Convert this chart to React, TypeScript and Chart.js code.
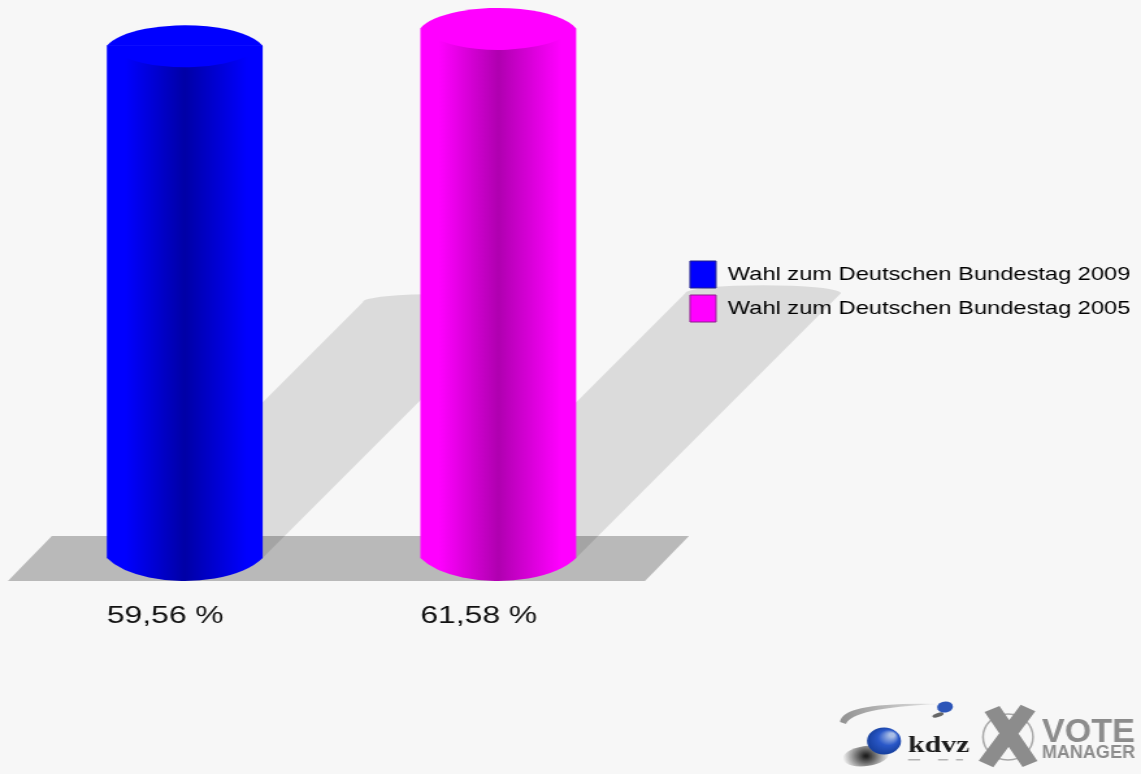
import React, { useEffect, useRef } from "react";
import { Chart, registerables } from "chart.js";

Chart.register(...registerables);

const seriesNames = ["Wahl zum Deutschen Bundestag 2009", "Wahl zum Deutschen Bundestag 2005"];
const turnout = [59.56, 61.58];
const tickLabels = ["59,56 %", "61,58 %"];
const barColors = ["#0000ff", "#ff00ff"];
const barDark = ["#0000a6", "#b000b0"];
const boxBorders = ["#20208a", "#8a208a"];

const WIDTH = 1141;
const HEIGHT = 774;
const LOGICAL_W = 878;
const SX = WIDTH / LOGICAL_W; // the reference is stretched horizontally
const X = (real: number) => real / SX;

function barGeom(chart: any, i: number) {
  const xs = chart.scales.x;
  const half = (xs.width / 2) * 0.497 / 2;
  const cx = xs.getPixelForValue(i);
  return { cx, half, L: cx - half, R: cx + half };
}

// a curved segment between the two bar corners, cut from an ellipse slightly wider than the bar
function lens(
  ctx: CanvasRenderingContext2D,
  cx: number,
  half: number,
  cornerY: number,
  rise: number,
  dir: number,
  f: number
) {
  const k = Math.sqrt(1 - 1 / (f * f));
  const ry = rise / (1 - k);
  const t = Math.acos(1 / f);
  if (dir < 0) {
    ctx.ellipse(cx, cornerY + ry * k, half * f, ry, 0, Math.PI + t, 2 * Math.PI - t);
  } else {
    ctx.ellipse(cx, cornerY - ry * k, half * f, ry, 0, t, Math.PI - t);
  }
  ctx.closePath();
}

const cylinderPlugin = {
  id: "cylinder",
  afterLayout(chart: any) {
    const lg = chart.legend;
    lg.left = X(690) - 7;
    lg.width = LOGICAL_W - lg.left;
    lg.right = LOGICAL_W;
    lg.top = 261 - 7;
    lg.bottom = lg.top + 90;
    lg.height = 90;
  },
  beforeDraw(chart: any) {
    const { ctx, scales } = chart;
    const base = scales.y.getPixelForValue(0);
    const g0 = barGeom(chart, 0);
    // floor
    ctx.save();
    ctx.fillStyle = "rgba(0,0,0,0.25)";
    ctx.beginPath();
    ctx.moveTo(g0.L - X(55), base - 22);
    ctx.lineTo(scales.x.right + X(34), base - 22);
    ctx.lineTo(scales.x.right + X(-10), base + 23);
    ctx.lineTo(g0.L - X(99), base + 23);
    ctx.closePath();
    ctx.fill();
    // cast shadows
    ctx.fillStyle = "rgba(0,0,0,0.11)";
    turnout.forEach((v, i) => {
      const g = barGeom(chart, i);
      const h = base - scales.y.getPixelForValue(v);
      const dx = X(h / 2);
      const yTop = base - h / 2;
      ctx.beginPath();
      ctx.moveTo(g.L, base);
      ctx.lineTo(g.L + dx, yTop);
      ctx.ellipse(g.cx + dx, yTop, g.half, 8, 0, Math.PI, 2 * Math.PI);
      ctx.lineTo(g.R, base);
      ctx.closePath();
      ctx.fill();
    });
    ctx.restore();
    drawLogo(ctx);
  },
  afterDatasetsDraw(chart: any) {
    const { ctx, scales } = chart;
    const base = scales.y.getPixelForValue(0);
    const bars = chart.getDatasetMeta(0).data;
    turnout.forEach((v, i) => {
      const g = barGeom(chart, i);
      const top = scales.y.getPixelForValue(v);
      ctx.save();
      // bottom curve of the cylinder
      ctx.fillStyle = bars[i].options.backgroundColor;
      ctx.beginPath();
      lens(ctx, g.cx, g.half, base, 23, 1, 1.1);
      ctx.fill();
      // top cap
      ctx.fillStyle = barColors[i];
      ctx.beginPath();
      lens(ctx, g.cx, g.half, top, 20.5, -1, 1.04);
      ctx.fill();
      ctx.beginPath();
      lens(ctx, g.cx, g.half, top - 0.5, 22, 1, 1.04);
      ctx.fill();
      ctx.restore();
    });
  },
};

function drawLogo(ctx: CanvasRenderingContext2D) {
  ctx.save();
  const grey = "#8c8c8c";
  // swoosh
  const sw = ctx.createLinearGradient(X(838), 0, X(940), 0);
  sw.addColorStop(0, "#8f8f8f");
  sw.addColorStop(1, "#e8e8e8");
  ctx.fillStyle = sw;
  ctx.beginPath();
  ctx.moveTo(X(840), 722);
  ctx.quadraticCurveTo(X(842), 702, X(938), 704);
  ctx.quadraticCurveTo(X(852), 708, X(846), 724);
  ctx.closePath();
  ctx.fill();
  // small ball
  ctx.fillStyle = "rgba(40,40,40,0.7)";
  ctx.beginPath();
  ctx.ellipse(X(938), 715, X(6), 2, -0.4, 0, 2 * Math.PI);
  ctx.fill();
  ctx.fillStyle = "#2c55b8";
  ctx.beginPath();
  ctx.ellipse(X(945), 707, X(8), 5.5, -0.4, 0, 2 * Math.PI);
  ctx.fill();
  // big ball shadow
  const sh = ctx.createRadialGradient(X(866), 756, 1, X(866), 756, 18);
  sh.addColorStop(0, "rgba(20,20,20,0.95)");
  sh.addColorStop(1, "rgba(20,20,20,0)");
  ctx.fillStyle = sh;
  ctx.beginPath();
  ctx.ellipse(X(866), 756, 18, 10, -0.2, 0, 2 * Math.PI);
  ctx.fill();
  // big ball
  const ball = ctx.createRadialGradient(X(892), 735, 2, X(884), 741, 15);
  ball.addColorStop(0, "#a8bde6");
  ball.addColorStop(0.45, "#2a58c8");
  ball.addColorStop(1, "#123a94");
  ctx.fillStyle = ball;
  ctx.beginPath();
  ctx.ellipse(X(884), 741, X(17), 13.5, 0, 0, 2 * Math.PI);
  ctx.fill();
  // kdvz
  ctx.fillStyle = "#1c1c1c";
  ctx.textBaseline = "alphabetic";
  ctx.textAlign = "left";
  ctx.font = 'bold 23px "Liberation Serif"';
  ctx.fillText("kdvz", X(908), 752, X(62));
  // faint marks below kdvz
  ctx.fillStyle = "#b4b4b4";
  [[908, 12], [938, 10], [956, 7]].forEach(([x, w]) => ctx.fillRect(X(x), 759, X(w), 1.5));
  // vote cross
  ctx.strokeStyle = "#a8a8a8";
  ctx.lineWidth = 1.5;
  ctx.beginPath();
  ctx.ellipse(X(1008), 737, X(25), 23, 0, 0, 2 * Math.PI);
  ctx.stroke();
  ctx.strokeStyle = grey;
  ctx.lineWidth = 13;
  ctx.beginPath();
  ctx.moveTo(X(992), 709);
  ctx.lineTo(X(1030), 764);
  ctx.moveTo(X(1028), 708);
  ctx.lineTo(X(986), 764);
  ctx.stroke();
  // VOTE MANAGER
  ctx.fillStyle = grey;
  ctx.font = 'bold 34px "Liberation Sans"';
  ctx.fillText("VOTE", X(1042), 742, X(93));
  ctx.font = 'bold 18px "Liberation Sans"';
  ctx.fillText("MANAGER", X(1042), 758, X(93));
  ctx.restore();
}

export default function App() {
  const ref = useRef<HTMLCanvasElement>(null);
  useEffect(() => {
    document.body.style.margin = "0";
    document.body.style.background = "#f7f7f7";
    const chart = new Chart(ref.current as HTMLCanvasElement, {
      type: "bar",
      data: {
        labels: tickLabels,
        datasets: [
          {
            label: "Wahlbeteiligung",
            data: turnout,
            barPercentage: 0.71,
            categoryPercentage: 0.7,
            borderWidth: 0,
            backgroundColor: (c: any) => {
              const i = c.dataIndex ?? 0;
              const chartRef = c.chart;
              if (!chartRef.scales.x) return barColors[i];
              const g = barGeom(chartRef, i);
              const grad = chartRef.ctx.createLinearGradient(g.L, 0, g.R, 0);
              grad.addColorStop(0, barColors[i]);
              grad.addColorStop(0.12, barColors[i]);
              grad.addColorStop(0.5, barDark[i]);
              grad.addColorStop(0.9, barColors[i]);
              grad.addColorStop(1, barColors[i]);
              return grad;
            },
          },
        ],
      },
      options: {
        animation: false,
        responsive: false,
        layout: {
          padding: { left: X(28), right: LOGICAL_W - X(655), top: 7.6, bottom: 0 },
        },
        plugins: {
          tooltip: { enabled: false },
          title: { display: false },
          legend: {
            position: "chartArea",
            align: "start",
            labels: {
              color: "#222222",
              font: { family: '"Liberation Sans"', size: 18.2 },
              boxWidth: 20,
              boxHeight: 27,
              padding: 7,
              generateLabels: () =>
                seriesNames.map((text, i) => ({
                  text,
                  fillStyle: barColors[i],
                  strokeStyle: boxBorders[i],
                  lineWidth: 1,
                  hidden: false,
                  index: i,
                  datasetIndex: 0,
                })),
            },
          },
        },
        scales: {
          x: {
            grid: { display: false, drawTicks: false },
            border: { display: false },
            afterFit: (s: any) => {
              s.height = HEIGHT - 558;
            },
            ticks: {
              color: "#111111",
              font: { family: '"Liberation Sans"', size: 24.5 },
              padding: 44,
              labelOffset: -15,
              maxRotation: 0,
              autoSkip: false,
            },
          },
          y: {
            display: false,
            min: 0,
            max: 64,
          },
        },
      } as any,
      plugins: [cylinderPlugin as any],
    });
    return () => chart.destroy();
  }, []);

  return (
    <div
      style={{
        position: "absolute",
        left: 0,
        top: 0,
        width: LOGICAL_W,
        height: HEIGHT,
        transform: `scaleX(${SX})`,
        transformOrigin: "0 0",
        filter: "blur(0.6px)",
      }}
    >
      <canvas ref={ref} width={LOGICAL_W} height={HEIGHT} style={{ display: "block" }} />
    </div>
  );
}
